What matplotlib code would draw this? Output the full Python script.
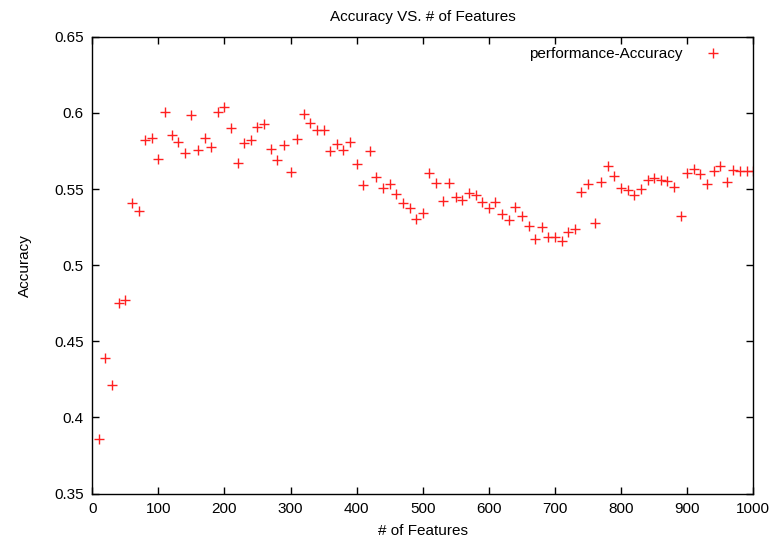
import numpy as np
import matplotlib
matplotlib.use("Agg")
import matplotlib.pyplot as plt

plt.rcParams['font.family'] = ['Liberation Sans', 'DejaVu Sans']

# number of features used, 10..1000 in steps of 10
features = np.arange(10, 1001, 10)
accuracy = [
    0.386, 0.439, 0.421, 0.475, 0.477, 0.541, 0.5355, 0.5825, 0.5836, 0.570,
    0.6007, 0.5856, 0.5806, 0.5734, 0.5983, 0.5755, 0.5838, 0.5773, 0.6005, 0.6039,
    0.5902, 0.5672, 0.5803, 0.5825, 0.5905, 0.5928, 0.5764, 0.569, 0.5786, 0.5611,
    0.583, 0.599, 0.5934, 0.5885, 0.5885, 0.5749, 0.5795, 0.5753, 0.581, 0.5661,
    0.5528, 0.5747, 0.5578, 0.5506, 0.5532, 0.5469, 0.5406, 0.5373, 0.5302, 0.534,
    0.5604, 0.5537, 0.5419, 0.5541, 0.5447, 0.5429, 0.5473, 0.5458, 0.5412, 0.5377,
    0.5414, 0.5337, 0.5294, 0.538, 0.5322, 0.5259, 0.5169, 0.5248, 0.5186, 0.5184,
    0.516, 0.5219, 0.5235, 0.5482, 0.5534, 0.5276, 0.5547, 0.565, 0.5587, 0.5504,
    0.5495, 0.5458, 0.5501, 0.556, 0.5569, 0.556, 0.5552, 0.5511, 0.5322, 0.5604,
    0.5633, 0.56, 0.5532, 0.5615, 0.565, 0.5547, 0.5626, 0.5615, 0.5619, 0.5615,
]

fig = plt.figure(figsize=(7.75, 5.4), dpi=100)
ax = fig.add_axes([0.119, 0.086, 0.853, 0.846])

ax.plot(features, accuracy, linestyle='none', marker='+', color='#ff2020',
        markersize=7, markeredgewidth=1.0, label='performance-Accuracy')

ax.set_xlim(0, 1000)
ax.set_ylim(0.35, 0.65)
ax.set_xticks(np.arange(0, 1001, 100))
ax.set_yticks(np.arange(0.35, 0.651, 0.05))
ax.set_yticklabels(['0.35', '0.4', '0.45', '0.5', '0.55', '0.6', '0.65'])
ax.tick_params(direction='in', top=True, right=True, length=5, width=1,
               labelsize=11, pad=6)
for s in ax.spines.values():
    s.set_linewidth(1.0)

ax.set_title('Accuracy VS. # of Features', fontsize=11, pad=11)
ax.set_xlabel('# of Features', fontsize=11, labelpad=6)
ax.set_ylabel('Accuracy', fontsize=11, labelpad=16)

ax.legend(loc='upper right', bbox_to_anchor=(0.962, 0.977), frameon=False,
          markerfirst=False, fontsize=11, handlelength=2.0, handletextpad=1.0,
          borderaxespad=0, borderpad=0)

fig.savefig('out.png', dpi=100)
